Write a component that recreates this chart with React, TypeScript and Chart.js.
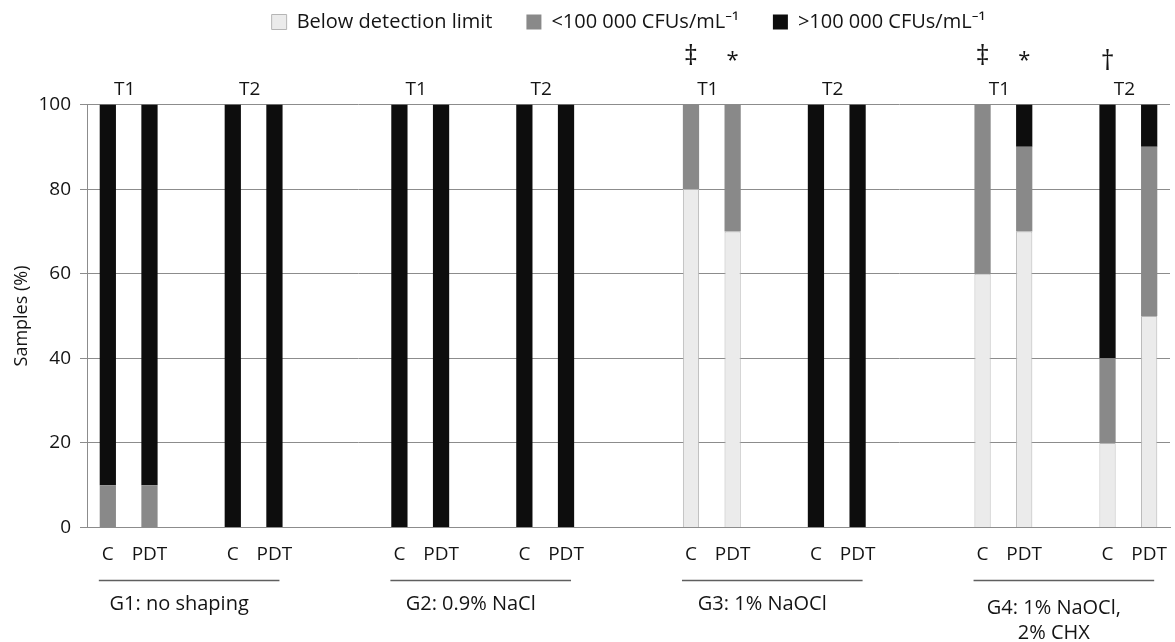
import React, { useEffect, useRef } from "react";
import { Chart, registerables } from "chart.js";

Chart.register(...registerables);

// ---- data ----
const groupNames: (string | string[])[] = [
  "G1: no shaping",
  "G2: 0.9% NaCl",
  "G3: 1% NaOCl",
  ["G4: 1% NaOCl,", "2% CHX"],
];
const timePoints = ["T1", "T2"];
const treatments = ["C", "PDT"];
const seriesNames = [
  "Below detection limit",
  "<100 000 CFUs/mL\u207B\u00B9",
  ">100 000 CFUs/mL\u207B\u00B9",
];
// bar order: G1 T1 C, G1 T1 PDT, G1 T2 C, G1 T2 PDT, G2 T1 C, ...
const belowLimit = [0, 0, 0, 0, 0, 0, 0, 0, 80, 70, 0, 0, 60, 70, 20, 50];
const under100k = [10, 10, 0, 0, 0, 0, 0, 0, 20, 30, 0, 0, 40, 20, 20, 40];
const over100k = [90, 90, 100, 100, 100, 100, 100, 100, 0, 0, 100, 100, 0, 10, 60, 10];
const barMarks = ["", "", "", "", "", "", "", "", "\u2021", "*", "", "", "\u2021", "*", "\u2020", ""];
const yTicks = [0, 20, 40, 60, 80, 100];

// ---- category slots (blank slots separate times and groups) ----
const SLOTS = 26;
const slotOf = (g: number, t: number, k: number) => 7 * g + 3 * t + k;
const labels: string[] = Array(SLOTS).fill("");
const barSlots: number[] = [];
groupNames.forEach((_, g) =>
  timePoints.forEach((_, t) =>
    treatments.forEach((tr, k) => {
      const s = slotOf(g, t, k);
      labels[s] = tr;
      barSlots.push(s);
    })
  )
);
const toSlots = (vals: number[]) => {
  const arr: (number | null)[] = Array(SLOTS).fill(null);
  vals.forEach((v, i) => {
    arr[barSlots[i]] = v === 0 ? null : v;
  });
  return arr;
};

const FONT = "'Open Sans', 'Noto Sans', sans-serif";
const TEXT = "#141414";
const GRID = "#8c8c8c";

const annotations = {
  id: "annotations",
  afterDraw(chart: any) {
    const { ctx, chartArea } = chart;
    const x = chart.scales.x;
    const px = (s: number) => x.getPixelForValue(s);
    ctx.save();
    ctx.fillStyle = TEXT;
    ctx.textAlign = "center";
    ctx.textBaseline = "middle";
    groupNames.forEach((name, g) => {
      ctx.font = `19px ${FONT}`;
      timePoints.forEach((tp, t) => {
        const cx = (px(slotOf(g, t, 0)) + px(slotOf(g, t, 1))) / 2 - 4;
        ctx.fillText(tp, cx, chartArea.top - 15);
      });
      const x0 = px(slotOf(g, 0, 0)) - 9;
      const x1 = px(slotOf(g, 1, 1)) + 5;
      const ly = Math.round(chartArea.bottom + 52) + 0.5;
      ctx.strokeStyle = "#5f5f5f";
      ctx.lineWidth = 1.5;
      ctx.beginPath();
      ctx.moveTo(x0, ly);
      ctx.lineTo(x1, ly);
      ctx.stroke();
      const lines = Array.isArray(name) ? name : [name];
      ctx.font = `20px ${FONT}`;
      const baseY = lines.length > 1 ? chartArea.bottom + 81 : chartArea.bottom + 77;
      lines.forEach((ln, i) => ctx.fillText(ln, (x0 + x1) / 2 - 10, baseY + i * 25));
    });
    barMarks.forEach((m, i) => {
      if (!m) return;
      if (m === "*") {
        ctx.font = `22px ${FONT}`;
        ctx.fillText(m, px(barSlots[i]), chartArea.top - 44);
      } else {
        ctx.font = `27px ${FONT}`;
        const y = m === "\u2020" ? chartArea.top - 42 : chartArea.top - 47;
        ctx.fillText(m, px(barSlots[i]), y);
      }
    });
    ctx.restore();
  },
};

export default function App() {
  const ref = useRef<HTMLCanvasElement | null>(null);
  useEffect(() => {
    if (!ref.current) return;
    const chart = new Chart(ref.current, {
      type: "bar",
      data: {
        labels,
        datasets: [
          {
            label: seriesNames[0],
            data: toSlots(belowLimit),
            backgroundColor: "#ebebeb",
            borderColor: "#b5b5b5",
            borderWidth: 1,
          },
          {
            label: seriesNames[1],
            data: toSlots(under100k),
            backgroundColor: "#898989",
            borderWidth: 0,
          },
          {
            label: seriesNames[2],
            data: toSlots(over100k),
            backgroundColor: "#0d0d0d",
            borderWidth: 0,
          },
        ],
      },
      options: {
        responsive: false,
        animation: false,
        events: [],
        barPercentage: 0.39,
        categoryPercentage: 1,
        layout: { padding: { top: -22, right: 5, left: 0, bottom: 0 } },
        plugins: {
          tooltip: { enabled: false },
          legend: {
            position: "top",
            fullSize: false,
            labels: {
              boxWidth: 15,
              boxHeight: 15,
              padding: 34,
              color: TEXT,
              font: { family: FONT, size: 20 },
            },
          },
        },
        scales: {
          x: {
            stacked: true,
            offset: true,
            afterFit: (s: any) => {
              s.height = 114.5;
            },
            grid: { display: false, drawTicks: true, tickLength: 16 },
            border: { display: true, color: GRID, width: 1 },
            ticks: {
              autoSkip: false,
              maxRotation: 0,
              minRotation: 0,
              padding: 0,
              color: TEXT,
              font: { family: FONT, size: 19 },
            },
          },
          xTop: {
            type: "category",
            position: "top",
            grid: { display: false, drawTicks: false },
            border: { display: false },
            ticks: { display: false },
            afterFit: (s: any) => {
              s.height = 62.5;
            },
          },
          y: {
            stacked: true,
            min: 0,
            max: 100,
            afterFit: (s: any) => {
              s.width = 87;
            },
            afterBuildTicks: (s: any) => {
              s.ticks = yTicks.map((v) => ({ value: v }));
            },
            grid: { color: GRID, lineWidth: 1, tickLength: 7, drawTicks: true },
            border: { display: true, color: GRID, width: 1 },
            ticks: { padding: 9, color: TEXT, font: { family: FONT, size: 19 } },
            title: {
              display: true,
              text: "Samples (%)",
              color: TEXT,
              font: { family: FONT, size: 18 },
              padding: { top: 11, bottom: 0 },
            },
          },
        },
      },
      plugins: [annotations],
    } as any);
    return () => chart.destroy();
  }, []);
  return (
    <div style={{ position: "absolute", left: 0, top: 0, width: 1175, height: 642 }}>
      <canvas ref={ref} width={1175} height={642} style={{ display: "block" }} />
    </div>
  );
}
